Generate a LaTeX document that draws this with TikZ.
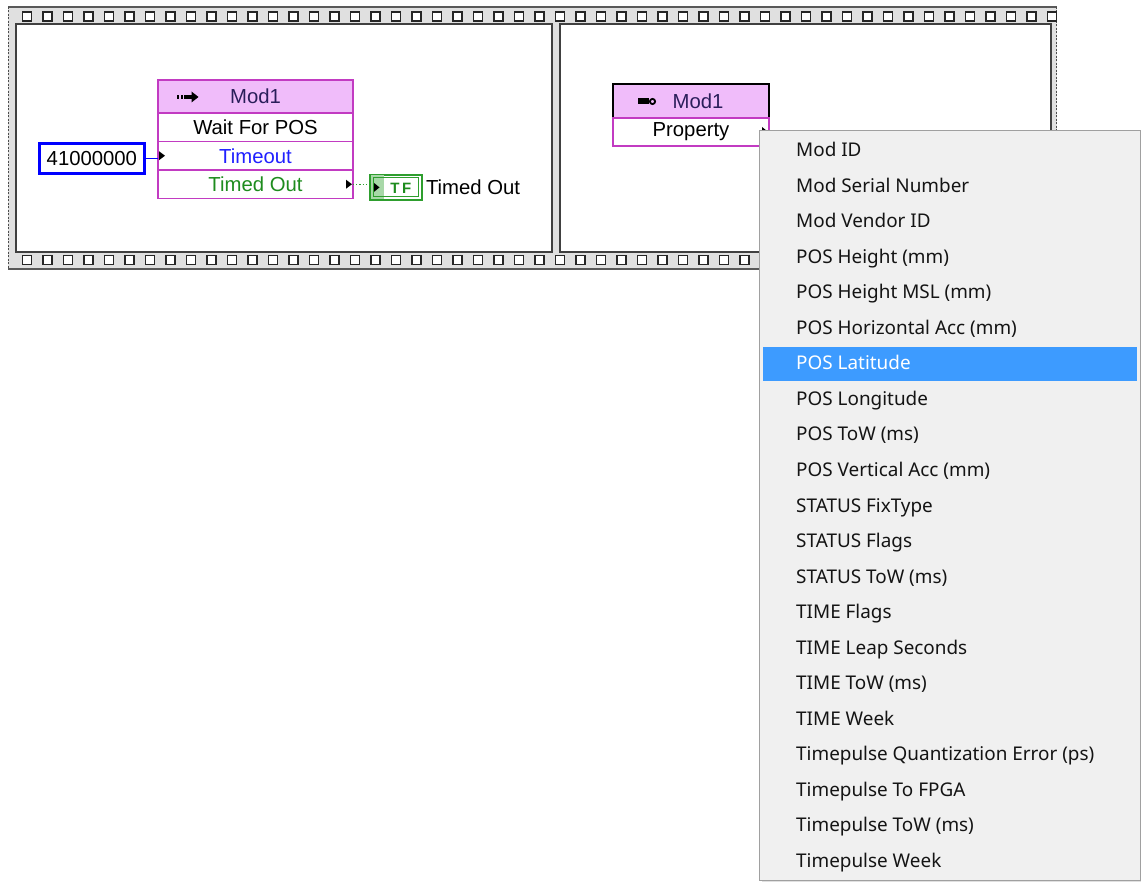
\documentclass[tikz,border=0pt]{standalone}
\usepackage{fontspec}
\setmainfont{Liberation Sans}
\newfontfamily\menufont{Noto Sans}
\usetikzlibrary{calc}
\definecolor{lvpink}{HTML}{F0BCFA}
\definecolor{lvmag}{HTML}{C23BC2}
\definecolor{stripgray}{HTML}{E0E0E0}
\definecolor{menubg}{HTML}{F0F0F0}
\definecolor{menuborder}{HTML}{A0A0A0}
\definecolor{hl}{HTML}{3D9BFF}
\definecolor{menutext}{HTML}{141414}
\definecolor{hdrtext}{HTML}{2A1E5A}
\definecolor{lvblue}{HTML}{2020FF}
\definecolor{lvgreen}{HTML}{1E8C1E}
\definecolor{tfgreen}{HTML}{2E9E2E}
\definecolor{tflight}{HTML}{A8D8A8}
\begin{document}
\begin{tikzpicture}[x=1pt,y=-1pt,
  lvtext/.style={font=\fontsize{20.3}{23}\selectfont},
  hole/.style={fill=white,draw=black!85,line width=1.9},
  frame/.style={fill=white,draw=black!75,line width=2.5},
  hdr/.style={lvtext,fill=lvpink,draw=lvmag,line width=1.2,inner sep=0,outer sep=0,text=hdrtext,anchor=north west},
  row/.style={lvtext,fill=white,draw=lvmag,line width=1.2,inner sep=0,outer sep=0,anchor=north west},
  menuitem/.style={font=\menufont\fontsize{18.9}{22}\selectfont,text=menutext,inner sep=0,anchor=base west},
  tri/.style={fill=black}
]
\useasboundingbox (0,0) rectangle (1141,882);
\fill[white] (0,0) rectangle (1141,882);

% film strip
\fill[stripgray] (8,7) rectangle (1057,269);
\draw[black!65,line width=1.5] (8,7) -- (1057,7);
\draw[black!65,line width=1.5] (8,269) -- (1057,269);
\draw[black!70,line width=1.5,dash pattern=on 2pt off 1.5pt] (8.5,7) -- (8.5,269);
\draw[black!70,line width=1.5,dash pattern=on 2pt off 1.5pt] (1056.5,7) -- (1056.5,269);
\foreach \k in {0,...,50}{
  \pgfmathsetmacro\xx{22.5+20.5*\k}
  \draw[hole] (\xx,12) rectangle ++(9,9);
  \draw[hole] (\xx,255.5) rectangle ++(9,9);
}
\draw[frame] (16,24) rectangle (552,252);
\draw[frame] (560,24) rectangle (1051,252);

% left frame: constant and Mod1 method node
\node[lvtext,draw=blue,line width=2.8,fill=white,minimum width=105,minimum height=30,inner sep=0,anchor=north west] (const) at (38,142) {41000000};
\node[hdr,minimum width=195,minimum height=33] (m1h) at (158,80) {Mod1};
\node[row,minimum width=195,minimum height=28.5] (m1w) at (m1h.south west) {Wait For POS};
\node[row,minimum width=195,minimum height=28.5,text=lvblue] (m1t) at (m1w.south west) {Timeout};
\node[row,minimum width=195,minimum height=28.5,text=lvgreen] (m1o) at (m1t.south west) {Timed Out};
% method icon
\fill[black] (177,95) rectangle ++(2.4,4);
\fill[black] (180.6,95) rectangle ++(2.4,4);
\fill[black] (184.2,95) rectangle ++(2.4,4);
\fill[black] (186.6,95.3) rectangle (192,98.7);
\fill[black] (191.5,91.5) -- (198.5,97) -- (191.5,102.5) -- cycle;
% terminals
\fill[tri] ($(m1t.west)+(1,-4.5)$) -- ++(6,4.5) -- ++(-6,4.5) -- cycle;
\fill[tri] ($(m1o.east)+(-7,-4.5)$) -- ++(6,4.5) -- ++(-6,4.5) -- cycle;
\draw[blue,line width=1.6] (const.east) -- (const.east -| m1t.west);

% TF indicator
\node[draw=tfgreen,line width=1.8,fill=white,minimum width=52,minimum height=25,inner sep=0,anchor=north west] (tf) at (369,174) {};
\fill[tflight] ($(tf.north west)+(1.5,1.5)$) rectangle ($(tf.south west)+(15,-1.5)$);
\draw[tfgreen,line width=1] ($(tf.north west)+(4,4)$) rectangle ($(tf.south east)+(-4,-4)$);
\fill[black] ($(tf.west)+(5,-4.5)$) -- ++(5.5,4.5) -- ++(-5.5,4.5) -- cycle;
\node[font=\bfseries\fontsize{15}{16}\selectfont,text=lvgreen,inner sep=0] (tft) at ($(tf.center)+(5,0.5)$) {T\,F};
\node[lvtext,inner sep=0,anchor=west] (tfl) at ($(tf.east)+(3,0)$) {Timed Out};
\draw[tfgreen,line width=1.2,dotted] (m1o.east) -- (m1o.east -| tf.west);

% right frame: property node
\node[hdr,draw=black,minimum width=156,minimum height=34,text=hdrtext] (m2h) at (613,84) {\hspace*{14pt}Mod1};
\node[row,minimum width=156,minimum height=28] (m2p) at (m2h.south west) {Property};
\draw[lvmag,line width=1.2] (m2h.south west) -- (m2h.south east);
\fill[black] (638,98.5) rectangle (649,104.5);
\draw[black,line width=1.8] (652.5,101.5) circle (2.6);
\fill[tri] ($(m2p.east)+(-7,-5)$) -- ++(5,4) -- ++(-5,4) -- cycle;

% dropdown menu
\fill[black!12] (762,134) rectangle (1141,882);
\fill[menubg] (759,131) rectangle (1140,880);
\draw[menuborder,line width=1] (759,131) rectangle (1140,880);
\fill[hl] (763,347) rectangle (1137,381);
\node[menuitem] (i0) at (796,157) {Mod ID};
\node[menuitem] (i1) at (796,192.5) {Mod Serial Number};
\node[menuitem] (i2) at (796,228) {Mod Vendor ID};
\node[menuitem] (i3) at (796,263.5) {POS Height (mm)};
\node[menuitem] (i4) at (796,299) {POS Height MSL (mm)};
\node[menuitem] (i5) at (796,334.5) {POS Horizontal Acc (mm)};
\node[menuitem,text=white] (i6) at (796,370) {POS Latitude};
\node[menuitem] (i7) at (796,405.5) {POS Longitude};
\node[menuitem] (i8) at (796,441) {POS ToW (ms)};
\node[menuitem] (i9) at (796,476.5) {POS Vertical Acc (mm)};
\node[menuitem] (i10) at (796,512) {STATUS FixType};
\node[menuitem] (i11) at (796,547.5) {STATUS Flags};
\node[menuitem] (i12) at (796,583) {STATUS ToW (ms)};
\node[menuitem] (i13) at (796,618.5) {TIME Flags};
\node[menuitem] (i14) at (796,654) {TIME Leap Seconds};
\node[menuitem] (i15) at (796,689.5) {TIME ToW (ms)};
\node[menuitem] (i16) at (796,725) {TIME Week};
\node[menuitem] (i17) at (796,760.5) {Timepulse Quantization Error (ps)};
\node[menuitem] (i18) at (796,796) {Timepulse To FPGA};
\node[menuitem] (i19) at (796,831.5) {Timepulse ToW (ms)};
\node[menuitem] (i20) at (796,867) {Timepulse Week};
\end{tikzpicture}
\end{document}
